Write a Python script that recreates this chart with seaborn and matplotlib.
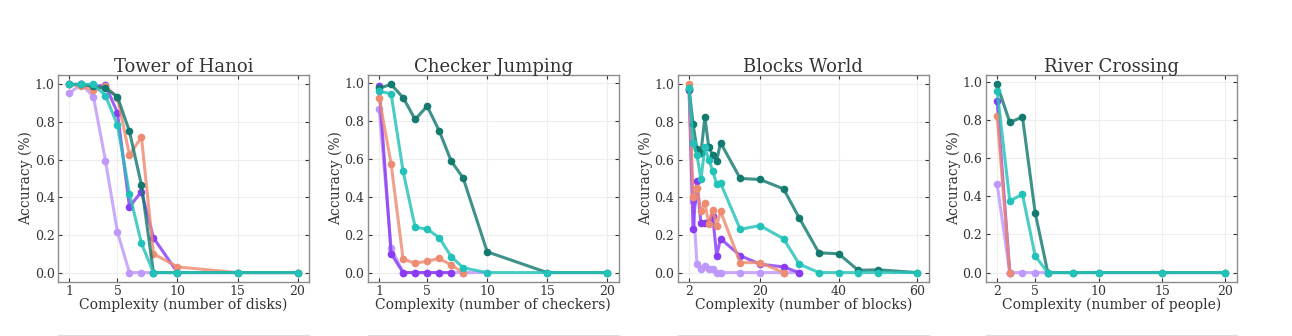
import numpy as np
import pandas as pd
import matplotlib
matplotlib.use("Agg")
import matplotlib.pyplot as plt
from matplotlib.lines import Line2D
from matplotlib.colors import to_rgb
import seaborn as sns

# ---------------- data ----------------
models = ["Model A", "Model B", "Model C", "Model D", "Model E"]
colors = ["#137a70", "#22c2b8", "#ee8c72", "#8a3cf5", "#bf98fb"]
draw_order = ["Model E", "Model D", "Model C", "Model A", "Model B"]

# Tower of Hanoi
hanoi_x = [1, 2, 3, 4, 5, 6, 7, 8, 10, 15, 20]
hanoi_a = [1.0, 1.0, 0.99, 0.98, 0.935, 0.75, 0.465, 0.0, 0.0, 0.0, 0.0]
hanoi_b = [1.0, 1.0, 1.0, 0.94, 0.785, 0.42, 0.155, 0.0, 0.0, 0.0, 0.0]
hanoi_c = [1.0, 0.99, 0.97, 0.99, 0.93, 0.625, 0.72, 0.10, 0.03, 0.0, 0.0]
hanoi_d = [1.0, 1.0, 0.99, 0.995, 0.85, 0.35, 0.43, 0.185, 0.0]
hanoi_e = [0.955, 1.0, 0.935, 0.595, 0.215, 0.0, 0.0, 0.0]

# Checker Jumping
checker_x = [1, 2, 3, 4, 5, 6, 7, 8, 10, 15, 20]
checker_a = [0.975, 0.995, 0.925, 0.81, 0.88, 0.75, 0.59, 0.50, 0.11, 0.0, 0.0]
checker_b = [0.96, 0.945, 0.535, 0.24, 0.23, 0.185, 0.085, 0.025, 0.0, 0.0, 0.0]
checker_c = [0.925, 0.575, 0.07, 0.05, 0.06, 0.075, 0.04, 0.0]
checker_d = [0.985, 0.10, 0.0, 0.0, 0.0, 0.0, 0.0]
checker_e = [0.865, 0.13, 0.0, 0.0, 0.0, 0.0, 0.0, 0.0, 0.0]

# Blocks World
blocks_x = [2, 3, 4, 5, 6, 7, 8, 9, 10, 15, 20, 26, 30, 35, 40, 45, 50, 60]
blocks_a = [0.975, 0.79, 0.655, 0.635, 0.825, 0.665, 0.625, 0.595, 0.69, 0.50,
            0.495, 0.445, 0.29, 0.105, 0.10, 0.012, 0.015, 0.0]
blocks_b = [0.98, 0.69, 0.625, 0.495, 0.665, 0.60, 0.54, 0.47, 0.475, 0.23,
            0.25, 0.18, 0.045, 0.0, 0.0, 0.0, 0.0, 0.0]
blocks_c = [1.0, 0.40, 0.45, 0.325, 0.37, 0.26, 0.335, 0.25, 0.325, 0.053,
            0.053, 0.0]
blocks_d = [0.97, 0.23, 0.485, 0.264, 0.264, 0.27, 0.30, 0.09, 0.18, 0.09,
            0.045, 0.03, 0.0]
blocks_e = [0.97, 0.38, 0.045, 0.021, 0.035, 0.02, 0.02, 0.0, 0.0, 0.0, 0.0,
            0.0, 0.0]

# River Crossing
river_x = [2, 3, 4, 5, 6, 8, 10, 15, 20]
river_a = [0.987, 0.788, 0.816, 0.315, 0.0, 0.0, 0.0, 0.0, 0.0]
river_b = [0.954, 0.376, 0.41, 0.088, 0.0, 0.0, 0.0, 0.0, 0.0]
river_c = [0.823, 0.0]
river_d = [0.90, 0.0]
river_e = [0.464, 0.0, 0.0, 0.0, 0.0]

panels = [
    ("Tower of Hanoi", "Complexity (number of disks)", hanoi_x,
     [hanoi_a, hanoi_b, hanoi_c, hanoi_d, hanoi_e], [1, 5, 10, 15, 20]),
    ("Checker Jumping", "Complexity (number of checkers)", checker_x,
     [checker_a, checker_b, checker_c, checker_d, checker_e], [1, 5, 10, 15, 20]),
    ("Blocks World", "Complexity (number of blocks)", blocks_x,
     [blocks_a, blocks_b, blocks_c, blocks_d, blocks_e], [2, 20, 40, 60]),
    ("River Crossing", "Complexity (number of people)", river_x,
     [river_a, river_b, river_c, river_d, river_e], [2, 5, 10, 15, 20]),
]

# ---------------- style ----------------
sns.set_theme(style="whitegrid")
plt.rcParams["font.family"] = ["DejaVu Serif"]
plt.rcParams.update({
    "text.color": "#333333",
    "axes.labelcolor": "#333333",
    "xtick.color": "#333333",
    "ytick.color": "#333333",
    "axes.edgecolor": "#8c8c8c",
    "grid.color": "#eeeeee",
})

color_of = dict(zip(models, colors))

fig = plt.figure(figsize=(12.92, 3.36), dpi=100)
W, H = 1292.0, 336.0
lefts = [58, 367.7, 677.7, 985.7]
ax_w, ax_top, ax_bot = 251, 75, 282

for (title, xlabel, xs, series, xticks), left in zip(panels, lefts):
    ax = fig.add_axes([left / W, (H - ax_bot) / H, ax_w / W, (ax_bot - ax_top) / H])
    data = dict(zip(models, series))
    for m in draw_order:
        vals = data[m]
        df = pd.DataFrame({"x": xs[:len(vals)], "acc": vals})
        sns.lineplot(data=df, x="x", y="acc", color=color_of[m], marker="o",
                     markersize=5.5, linewidth=2.2, markeredgewidth=0, ax=ax,
                     estimator=None, sort=False)
        line = ax.lines[-1]
        rgb = to_rgb(color_of[m])
        line.set_color((*rgb, 0.82))
        line.set_markerfacecolor(rgb)
        line.set_markeredgecolor(rgb)
    ax.set_title(title, fontsize=13, pad=2.5, color="#333333")
    ax.set_xlabel(xlabel, fontsize=10, labelpad=-0.5)
    ax.set_ylabel("Accuracy (%)", fontsize=10, labelpad=1)
    ax.set_xticks(xticks)
    ax.set_yticks([0.0, 0.2, 0.4, 0.6, 0.8, 1.0])
    ax.set_yticklabels(["0.0", "0.2", "0.4", "0.6", "0.8", "1.0"])
    ax.margins(x=0.05, y=0.05)
    ax.tick_params(direction="in", length=3, width=0.8, labelsize=9,
                   top=True, right=True, bottom=True, left=True, pad=2.5)
    for s in ax.spines.values():
        s.set_linewidth(1.0)
        s.set_color("#8c8c8c")
    ax.grid(True, color="#eeeeee", linewidth=0.8)
    fig.add_artist(Line2D([left / W, (left + ax_w) / W], [0.5 / H, 0.5 / H],
                          transform=fig.transFigure, color="#d9d9d9", lw=2))

fig.savefig("out.png", dpi=100, facecolor="white")
